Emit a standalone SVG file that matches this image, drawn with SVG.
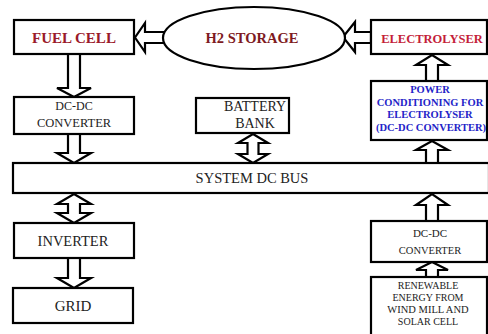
<svg xmlns="http://www.w3.org/2000/svg" width="488" height="334" viewBox="0 0 488 334">
<style>
.box{fill:#fff;stroke:#000;stroke-width:2.2}
.arr{fill:#fff;stroke:#000;stroke-width:2.2;stroke-linejoin:miter}
text{font-family:"Liberation Serif","Times New Roman",serif;text-anchor:middle;fill:#222}
.red{font-weight:bold;fill:#9a1a2a}
.blue{font-weight:bold;fill:#2424c8;font-size:10.5px}
</style>
<rect width="488" height="334" fill="#fff"/>
<g id="connectors">
<polygon class="arr" points="164,32 145,32 145,23 135,37.5 145,52 145,43 164,43"/>
<polygon class="arr" points="371,32 355,32 355,22 343,37 355,52 355,43 371,43"/>
<polygon class="arr" points="68,54 80,54 80,88 91,88 74,97 57,88 68,88"/>
<polygon class="arr" points="68,134 80,134 80,153 91,153 74,163 57,153 68,153"/>
<polygon class="arr" points="74,194 91,204 80,204 80,213 91,213 74,223 57,213 68,213 68,204 57,204"/>
<polygon class="arr" points="68,258 80,258 80,278 91,278 74,288 57,278 68,278"/>
<polygon class="arr" points="253,134 268,143 258.5,143 258.5,154 268,154 253,163 238,154 247.5,154 247.5,143 238,143"/>
<polygon class="arr" points="426,81 438,81 438,65 448,65 432,55 416,65 426,65"/>
<polygon class="arr" points="426,163 438,163 438,150 448,150 432,141 416,150 426,150"/>
<polygon class="arr" points="426,221 438,221 438,205 448,205 432,194 416,205 426,205"/>
<polygon class="arr" points="426,277 438,277 438,270 448,270 432,262 416,270 426,270"/>
</g>
<g id="h2storage">
<ellipse class="box" cx="254" cy="38" rx="91" ry="31"/>
<text x="252" y="43" class="red" font-size="14.5" style="fill:#7e1a22">H2 STORAGE</text>
</g>
<g id="fuelcell">
<rect class="box" x="14" y="20" width="120" height="34"/>
<text x="74" y="43" class="red" font-size="15">FUEL CELL</text>
</g>
<g id="electrolyser">
<rect class="box" x="371" y="20" width="116" height="34"/>
<text x="432" y="43" class="red" font-size="12.5" style="fill:#c41e3a">ELECTROLYSER</text>
</g>
<g id="dcdc-left">
<rect class="box" x="14" y="97" width="120" height="37"/>
<text x="74" y="110" font-size="12">DC-DC</text>
<text x="74" y="127" font-size="12.5">CONVERTER</text>
</g>
<g id="battery">
<rect class="box" x="196" y="98" width="93" height="35"/>
<text x="255" y="111" font-size="14">BATTERY</text>
<text x="255" y="128" font-size="14">BANK</text>
</g>
<g id="power">
<rect class="box" x="371" y="81" width="116" height="59"/>
<text x="430" y="93" class="blue">POWER</text>
<text x="430" y="106" class="blue">CONDITIONING FOR</text>
<text x="430" y="118" class="blue">ELECTROLYSER</text>
<text x="431" y="131" class="blue">(DC-DC CONVERTER)</text>
</g>
<g id="bus">
<rect class="box" x="13" y="163" width="476" height="30"/>
<text x="252" y="183" font-size="14.5">SYSTEM DC BUS</text>
</g>
<g id="inverter">
<rect class="box" x="14" y="223" width="120" height="35"/>
<text x="73" y="246" font-size="14.5">INVERTER</text>
</g>
<g id="grid">
<rect class="box" x="13" y="288" width="120" height="35"/>
<text x="73" y="311" font-size="15">GRID</text>
</g>
<g id="dcdc-right">
<rect class="box" x="371" y="221" width="116" height="41"/>
<text x="430" y="237" font-size="11">DC-DC</text>
<text x="430" y="254" font-size="10.5">CONVERTER</text>
</g>
<g id="renewable">
<rect class="box" x="371" y="277" width="116" height="62"/>
<text x="428" y="289" font-size="10">RENEWABLE</text>
<text x="428" y="301" font-size="10">ENERGY FROM</text>
<text x="428" y="313" font-size="10.5">WIND MILL AND</text>
<text x="428" y="325" font-size="10">SOLAR CELL</text>
</g>
</svg>
